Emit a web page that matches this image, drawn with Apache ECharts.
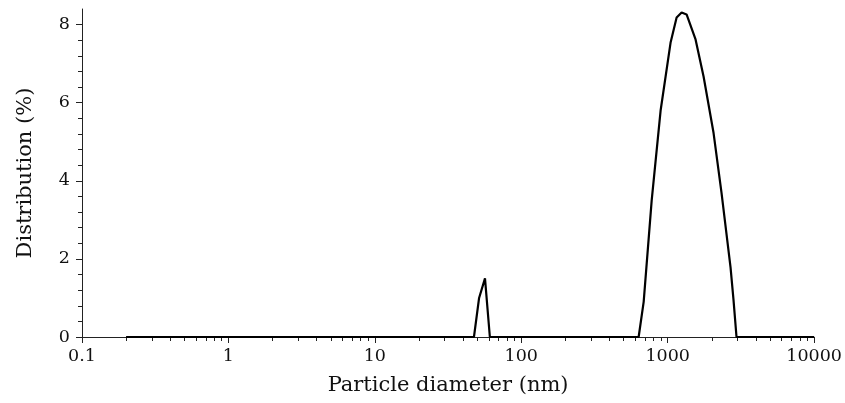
<!DOCTYPE html>
<html>
<head>
<meta charset="utf-8">
<script src="https://cdn.jsdelivr.net/npm/echarts@6/dist/echarts.min.js"></script>
<style>
  html, body { margin: 0; padding: 0; background: #fff; }
  #chart { width: 845px; height: 403px; }
</style>
</head>
<body>
<div id="chart"></div>
<script>
// particle diameter (nm) and distribution (%)
const diameters = [0.2, 47.5, 51.5, 56.5, 61, 633, 685, 777, 894, 1047, 1150, 1244, 1345, 1549, 1757, 2055, 2330, 2684, 2813, 2949, 10000]
const distribution = [0, 0, 1.0, 1.5, 0, 0, 0.9, 3.5, 5.8, 7.55, 8.18, 8.31, 8.26, 7.62, 6.67, 5.23, 3.69, 1.79, 0.95, 0, 0]

const xMajorTicks = [0.1, 1, 10, 100, 1000, 10000]
const xMinorSteps = [2, 3, 4, 5, 6, 7, 8, 9]
const yMajorTicks = [0, 2, 4, 6, 8]
const yMinorTicks = [0.4, 0.8, 1.2, 1.6, 2.4, 2.8, 3.2, 3.6, 4.4, 4.8, 5.2, 5.6, 6.4, 6.8, 7.2, 7.6]

const xMinorTicks = []
xMajorTicks.slice(0, -1).forEach(d => {
  xMinorSteps.forEach(s => xMinorTicks.push(+(d * s).toPrecision(3)))
})

const font = 'DejaVu Serif'
const axisColor = '#222'

const chart = echarts.init(document.getElementById('chart'))
chart.setOption({
  animation: false,
  grid: { left: 82, right: 29, top: 9, bottom: 66 },
  xAxis: [
    {
      type: 'log',
      logBase: 10,
      min: 0.1,
      max: 10000,
      name: 'Particle diameter (nm)',
      nameLocation: 'middle',
      nameGap: 38,
      nameTextStyle: { fontFamily: font, fontSize: 21, color: '#111' },
      axisLine: { show: true, lineStyle: { color: axisColor, width: 1 } },
      axisTick: { show: true, length: 6, customValues: xMajorTicks, lineStyle: { color: axisColor } },
      axisLabel: {
        customValues: xMajorTicks,
        margin: 10,
        fontFamily: font, fontSize: 17.5, color: '#111',
        formatter: v => String(v)
      },
      splitLine: { show: false },
      minorTick: { show: false }
    },
    {
      type: 'log',
      logBase: 10,
      min: 0.1,
      max: 10000,
      position: 'bottom',
      axisLine: { show: false },
      axisTick: { show: true, length: 4, customValues: xMinorTicks, lineStyle: { color: axisColor } },
      axisLabel: { show: false },
      splitLine: { show: false }
    }
  ],
  yAxis: [
    {
      type: 'value',
      min: 0,
      max: 8.4,
      name: 'Distribution (%)',
      nameLocation: 'middle',
      nameGap: 46,
      nameTextStyle: { fontFamily: font, fontSize: 21, color: '#111' },
      axisLine: { show: true, lineStyle: { color: axisColor, width: 1 } },
      axisTick: { show: true, length: 6, customValues: yMajorTicks, lineStyle: { color: axisColor } },
      axisLabel: {
        customValues: yMajorTicks,
        margin: 12,
        fontFamily: font, fontSize: 17.5, color: '#111'
      },
      splitLine: { show: false }
    },
    {
      type: 'value',
      min: 0,
      max: 8.4,
      position: 'left',
      axisLine: { show: false },
      axisTick: { show: true, length: 4, customValues: yMinorTicks, lineStyle: { color: axisColor } },
      axisLabel: { show: false },
      splitLine: { show: false }
    }
  ],
  series: [
    {
      type: 'line',
      xAxisIndex: 0,
      yAxisIndex: 0,
      data: diameters.map((d, i) => [d, distribution[i]]),
      showSymbol: false,
      symbol: 'none',
      lineStyle: { color: '#000', width: 2.2 }
    }
  ]
})
</script>
</body>
</html>
